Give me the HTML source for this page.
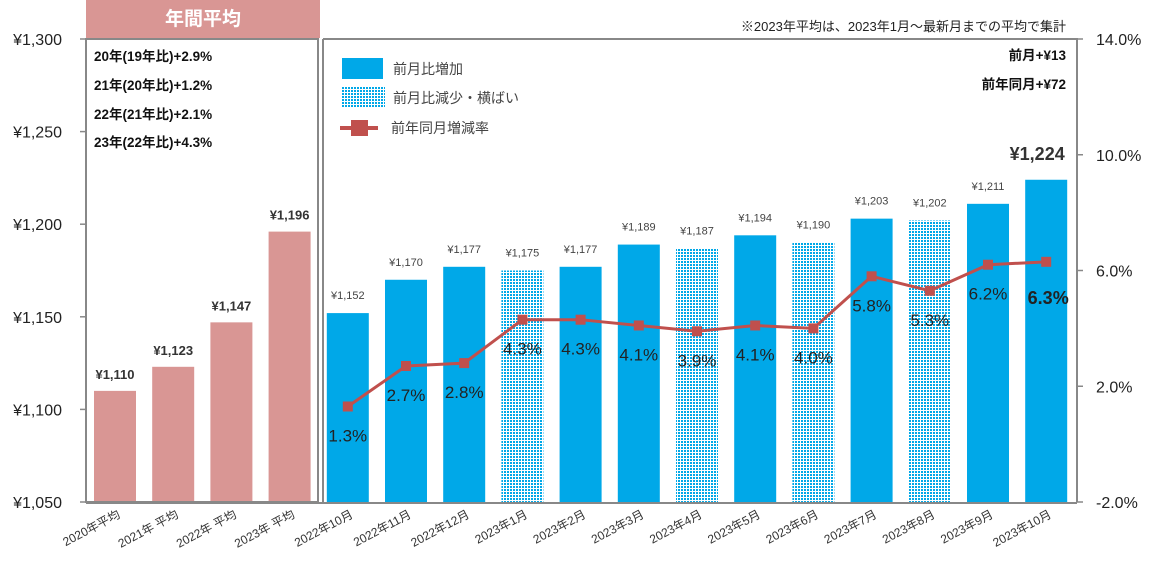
<!DOCTYPE html>
<html><head><meta charset="utf-8"><style>
html,body{margin:0;padding:0;background:#fff;}
svg{display:block;font-family:"Liberation Sans","Noto Sans CJK JP",sans-serif;}
</style></head><body>
<svg id="chart" width="1152" height="567" viewBox="0 0 1152 567" xmlns="http://www.w3.org/2000/svg">
<defs>
<pattern id="hatch" width="3" height="3" patternUnits="userSpaceOnUse">
<rect width="3" height="3" fill="#ffffff"/>
<rect x="0" y="0" width="2" height="2" fill="#00a8e8"/>
</pattern>
</defs>
<rect x="86" y="0" width="234" height="38" fill="#d99694"/>
<text x="203" y="25" font-size="19" font-weight="bold" fill="#fff" text-anchor="middle">年間平均</text>
<text x="1066" y="31" font-size="13" fill="#222" text-anchor="end">※2023年平均は、2023年1月～最新月までの平均で集計</text>
<g id="grid"></g>
<g id="bars"></g>
<g id="line"></g>
<g id="labels"></g>
<rect x="86" y="39" width="232" height="463" fill="none" stroke="#888" stroke-width="2"/>
<line x1="323" y1="39" x2="323" y2="502" stroke="#888" stroke-width="2"/>
<polyline points="323,39 1077,39 1077,502" fill="none" stroke="#888" stroke-width="2"/>
<line x1="86" y1="503" x2="1077" y2="503" stroke="#888" stroke-width="2"/>
<g font-size="13.5" font-weight="bold" fill="#111">
<text x="94" y="61">20年(19年比)+2.9%</text>
<text x="94" y="90">21年(20年比)+1.2%</text>
<text x="94" y="119">22年(21年比)+2.1%</text>
<text x="94" y="147">23年(22年比)+4.3%</text>
</g>
<g>
<rect x="342" y="58" width="41" height="21" fill="#00a8e8"/>
<text x="393" y="74" font-size="14" fill="#444">前月比増加</text>
<rect x="342" y="87" width="43" height="21" fill="url(#hatch)"/>
<text x="393" y="103" font-size="14" fill="#444">前月比減少・横ばい</text>
<line x1="340" y1="128" x2="378" y2="128" stroke="#c0504d" stroke-width="4"/>
<rect x="351" y="120" width="17" height="16" fill="#c0504d"/>
<text x="391" y="133" font-size="14" fill="#444">前年同月増減率</text>
</g>
<text x="1066" y="60" font-size="13.5" font-weight="bold" fill="#111" text-anchor="end">前月+¥13</text>
<text x="1066" y="89" font-size="13.5" font-weight="bold" fill="#111" text-anchor="end">前年同月+¥72</text>
</svg>
<script>
const categories=["2020年平均","2021年 平均","2022年 平均","2023年 平均","2022年10月","2022年11月","2022年12月","2023年1月","2023年2月","2023年3月","2023年4月","2023年5月","2023年6月","2023年7月","2023年8月","2023年9月","2023年10月"];
const prices=[1110,1123,1147,1196,1152,1170,1177,1175,1177,1189,1187,1194,1190,1203,1202,1211,1224];
const barTypes=["annual","annual","annual","annual","up","up","up","down","up","up","down","up","down","up","down","up","up"];
const yoyRates=[1.3,2.7,2.8,4.3,4.3,4.1,3.9,4.1,4.0,5.8,5.3,6.2,6.3];
const leftTicks=[1050,1100,1150,1200,1250,1300];
const rightTicks=[-2,2,6,10,14];

const NS="http://www.w3.org/2000/svg";
const plotTop=39,plotBot=502;
function yL(v){return plotBot-(v-1050)/(1300-1050)*(plotBot-plotTop);}
function yR(v){return plotBot-(v+2)/16*(plotBot-plotTop);}
function xC(i){return 115+i*58.2;}
function mk(tag,attrs,parent,txt){const e=document.createElementNS(NS,tag);for(const k in attrs)e.setAttribute(k,attrs[k]);if(txt!==undefined)e.textContent=txt;parent.appendChild(e);return e;}
const gridG=document.getElementById('grid'),barsG=document.getElementById('bars'),lineG=document.getElementById('line'),labelsG=document.getElementById('labels');
function fmt(v){return "¥"+v.toLocaleString('en-US');}
leftTicks.forEach(v=>{
  const y=yL(v);
  const t=mk('line',{x1:80,x2:86,y1:y,y2:y,stroke:'#888','stroke-width':1.5},gridG);
  
  
  const l=mk('text',{x:62,y:y+6,'font-size':16,fill:'#222','text-anchor':'end'},gridG,fmt(v));
  
  
});
rightTicks.forEach(v=>{
  const y=yR(v);
  const t=mk('line',{x1:1077,x2:1083,y1:y,y2:y,stroke:'#888','stroke-width':1.5},gridG);
  
  
  const l=mk('text',{x:1096,y:y+6,'font-size':16,fill:'#222'},gridG,v.toFixed(1)+"%");
  
  
});
categories.forEach((c,i)=>{
  const x=xC(i),v=prices[i],y=yL(v),tp=barTypes[i];
  const fill=tp==='annual'?'#d99694':(tp==='up'?'#00a8e8':'url(#hatch)');
  const r=mk('rect',{x:x-21,y:y,width:42,height:plotBot-y,fill:fill},barsG);
  
  
  const last=i===categories.length-1;
  let lbl;
  if(tp==='annual') lbl=mk('text',{x:x,y:y-12,'font-size':13,'font-weight':'bold',fill:'#333','text-anchor':'middle'},labelsG,fmt(v));
  else if(last) lbl=mk('text',{x:x-9,y:y-20,'font-size':18,'font-weight':'bold',fill:'#333','text-anchor':'middle'},labelsG,fmt(v));
  else lbl=mk('text',{x:x,y:y-14,'font-size':11,fill:'#444','text-anchor':'middle'},labelsG,fmt(v));
  
  
  const tx=x+6,ty=517;
  const xl=mk('text',{x:tx,y:ty,'font-size':12,fill:'#333','text-anchor':'end',transform:`rotate(-28 ${tx} ${ty})`},labelsG,c);
  
  
});
const pts=yoyRates.map((v,j)=>[xC(j+4),yR(v)]);
const pl=mk('polyline',{points:pts.map(p=>p.join(',')).join(' '),fill:'none',stroke:'#c0504d','stroke-width':3},lineG);


pts.forEach((p,j)=>{
  const m=mk('rect',{x:p[0]-5,y:p[1]-5,width:10,height:10,fill:'#c0504d'},lineG);
  
  
  const last=j===pts.length-1;
  const t=mk('text',{x:last?p[0]+2:p[0],y:p[1]+(last?42:35),'font-size':last?18:17,'font-weight':last?'bold':'normal',fill:'#222','text-anchor':'middle'},labelsG,yoyRates[j].toFixed(1)+"%");
  
  
});
</script>
</body></html>
